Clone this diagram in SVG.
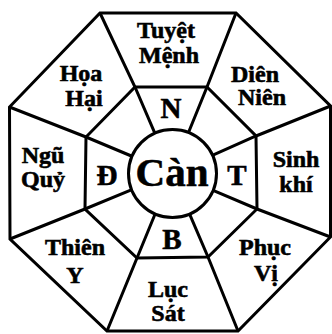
<svg xmlns="http://www.w3.org/2000/svg" width="332" height="334" viewBox="0 0 332 334">
<style>
.ln{fill:none;stroke:#000;stroke-width:3;stroke-linejoin:miter}
.t{font-family:"Liberation Serif","Times New Roman",serif;font-weight:bold;fill:#000;stroke:#000;stroke-width:0.6;text-anchor:middle}
.o{font-size:24px}
.c{font-size:29px}
.m{font-size:41px}
</style>
<rect width="332" height="334" fill="#fff"/>
<g id="frame">
<polygon class="ln" points="100,13 236,13 330.5,106 330.5,237 238,331 107,331 10,239 9.5,107"/>
<polygon class="ln" points="135,87 207,87 256,136 257,209 208,257 137,258 85,209 86,137"/>
<circle class="ln" cx="172.5" cy="173.5" r="44"/>
</g>
<g id="spokes">
<polyline class="ln" points="100,13 135,87 154.6,132.6"/>
<polyline class="ln" points="236,13 207,87 188.6,132.2"/>
<polyline class="ln" points="330.5,106 256,136 212.3,155.3"/>
<polyline class="ln" points="330.5,237 257,209 212.5,190.2"/>
<polyline class="ln" points="238,331 208,257 189.3,213.4"/>
<polyline class="ln" points="107,331 137,258 155.2,213.7"/>
<polyline class="ln" points="10,239 85,209 131.3,189.8"/>
<polyline class="ln" points="9.5,107 86,137 131.4,156"/>
</g>
<g id="tuyet-menh"><text class="t o" x="166" y="38">Tuyệt</text><text class="t o" x="169" y="63">Mệnh</text></g>
<g id="hoa-hai"><text class="t o" x="81" y="81">Họa</text><text class="t o" x="84" y="106">Hại</text></g>
<g id="dien-nien"><text class="t o" x="255" y="82">Diên</text><text class="t o" x="262" y="105">Niên</text></g>
<g id="ngu-quy"><text class="t o" x="43" y="163">Ngũ</text><text class="t o" x="43" y="187">Quỷ</text></g>
<g id="sinh-khi"><text class="t o" x="296" y="167">Sinh</text><text class="t o" x="296" y="192">khí</text></g>
<g id="thien-y"><text class="t o" x="75" y="255">Thiên</text><text class="t o" x="75" y="283">Y</text></g>
<g id="phuc-vi"><text class="t o" x="265" y="255">Phục</text><text class="t o" x="266" y="281">Vị</text></g>
<g id="luc-sat"><text class="t o" x="168" y="297">Lục</text><text class="t o" x="168" y="321">Sát</text></g>
<g id="n"><text class="t c" x="171" y="118">N</text></g>
<g id="t"><text class="t c" x="237" y="185">T</text></g>
<g id="b"><text class="t c" x="172" y="249">B</text></g>
<g id="d"><text class="t c" x="107" y="185">Đ</text></g>
<g id="can"><text class="t m" x="172" y="186">Càn</text></g>
</svg>
